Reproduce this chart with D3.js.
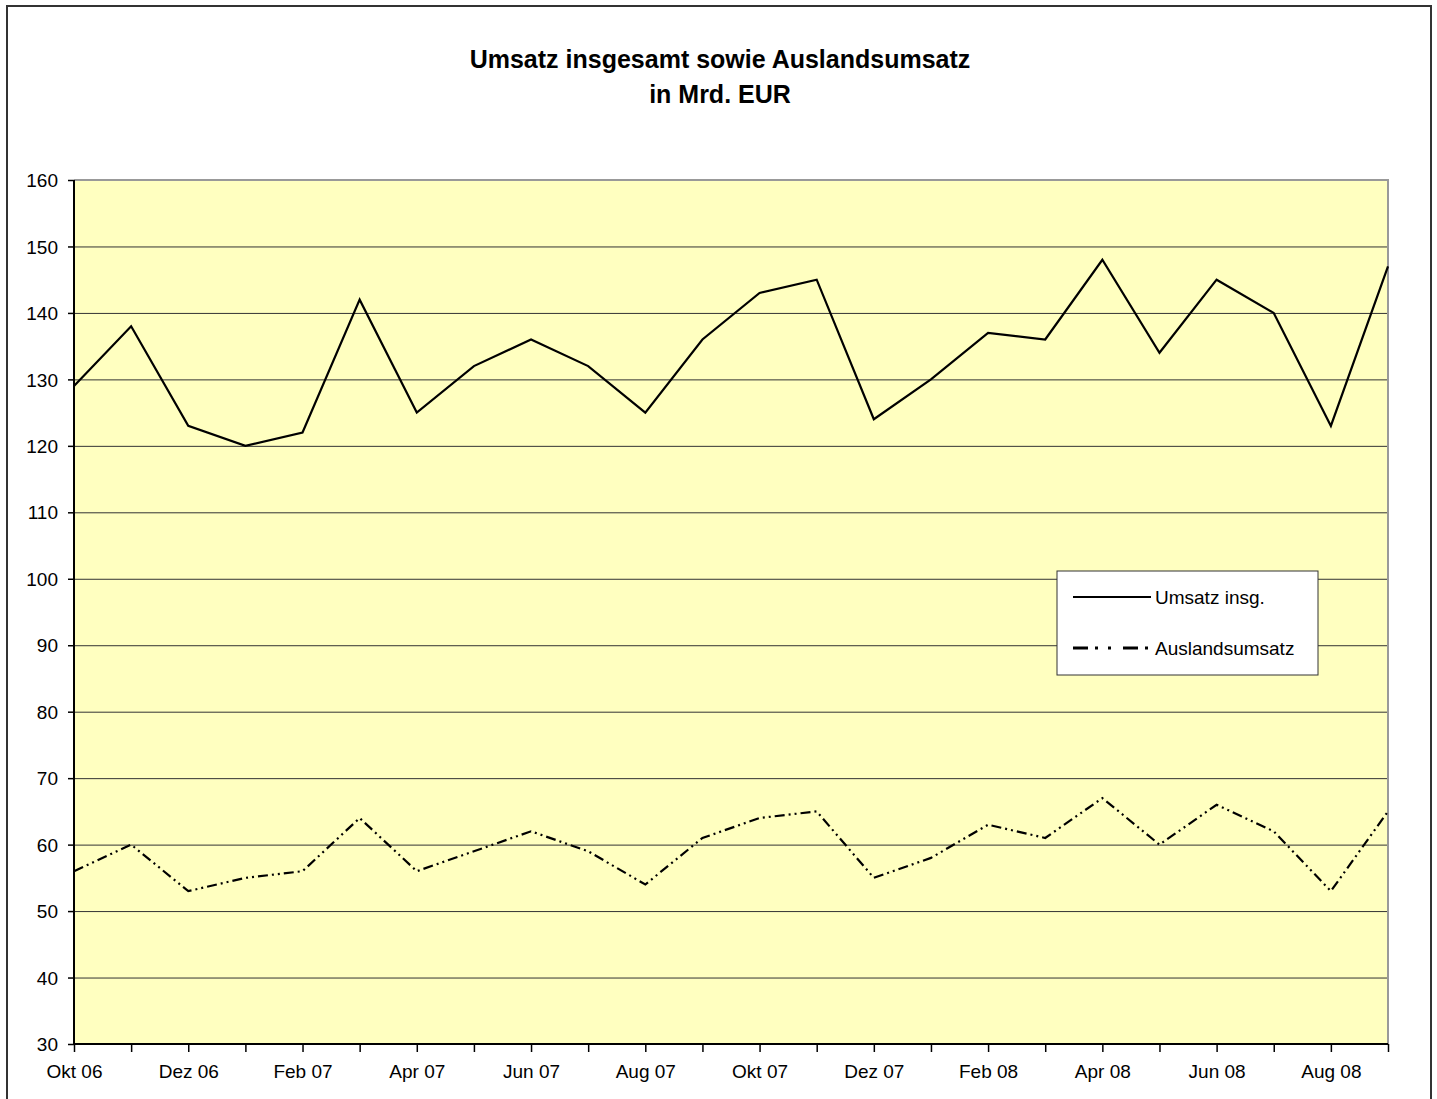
<!DOCTYPE html>
<html>
<head>
<meta charset="utf-8">
<script src="https://cdn.jsdelivr.net/npm/d3@7"></script>
<style>
	body { margin: 0; background: #fff; }
	svg text { font-family: "Liberation Sans", Arial, sans-serif; fill: #000; }
</style>
</head>
<body>
<svg id="chart" width="1437" height="1099"></svg>
<script>
// Monate Okt 06 bis Sep 08
var months = ["Okt 06", "Nov 06", "Dez 06", "Jan 07", "Feb 07", "Mrz 07", "Apr 07", "Mai 07",
	"Jun 07", "Jul 07", "Aug 07", "Sep 07", "Okt 07", "Nov 07", "Dez 07", "Jan 08",
	"Feb 08", "Mrz 08", "Apr 08", "Mai 08", "Jun 08", "Jul 08", "Aug 08", "Sep 08"];

var umsatz = [129, 138, 123, 120, 122, 142, 125, 132, 136, 132, 125, 136,
	143, 145, 124, 130, 137, 136, 148, 134, 145, 140, 123, 147];

var auslandsumsatz = [56, 60, 53, 55, 56, 64, 56, 59, 62, 59, 54, 61,
	64, 65, 55, 58, 63, 61, 67, 60, 66, 62, 53, 65];

var yTicks = [30, 40, 50, 60, 70, 80, 90, 100, 110, 120, 130, 140, 150, 160];
var titleLines = ["Umsatz insgesamt sowie Auslandsumsatz", "in Mrd. EUR"];
var seriesNames = ["Umsatz insg.", "Auslandsumsatz"];

var svg = d3.select("#chart");
var width = 1437, height = 1099;
var margin = {top: 180, right: 49, bottom: 55, left: 74};
var dashPattern = "10,4,2,4,2,4";

// outer frame
svg.append("rect")
	.attr("x", 7).attr("y", 6)
	.attr("width", 1424).attr("height", 1100)
	.attr("fill", "#fff")
	.attr("stroke", "#333")
	.attr("stroke-width", 2);

// title
svg.append("g").selectAll("text")
	.data(titleLines)
	.enter().append("text")
	.attr("x", 720)
	.attr("y", (d, i) => 68 + i * 35)
	.attr("text-anchor", "middle")
	.style("font-size", "25px")
	.style("font-weight", "bold")
	.text(d => d);

var x = d3.scalePoint()
	.domain(months)
	.range([margin.left, width - margin.right]);

var y = d3.scaleLinear()
	.domain([30, 160])
	.range([height - margin.bottom, margin.top]);

// plot background
svg.append("rect")
	.attr("x", margin.left).attr("y", margin.top)
	.attr("width", x.range()[1] - margin.left)
	.attr("height", y(30) - margin.top)
	.attr("fill", "#ffffc0");

// gridlines
svg.append("g").selectAll("line")
	.data(yTicks.filter(t => t > 30 && t < 160))
	.enter().append("line")
	.attr("x1", margin.left).attr("x2", x.range()[1])
	.attr("y1", d => y(d) + 0.5).attr("y2", d => y(d) + 0.5)
	.attr("stroke", "#333")
	.attr("stroke-width", 1);

// plot area border top/right
svg.append("path")
	.attr("d", "M" + margin.left + "," + y(160) + "H" + x.range()[1] + "V" + y(30))
	.attr("fill", "none")
	.attr("stroke", "#999")
	.attr("stroke-width", 2);

// y axis
var yAxis = svg.append("g")
	.attr("transform", "translate(" + margin.left + ",0)")
	.call(d3.axisLeft(y).tickValues(yTicks).tickSize(6).tickPadding(10));
yAxis.selectAll("text").style("font-size", "19px").attr("dy", "0.35em");

// x axis
var xAxis = svg.append("g")
	.attr("transform", "translate(0," + y(30) + ")")
	.call(d3.axisBottom(x).tickSize(8).tickPadding(13)
		.tickFormat((d, i) => i % 2 === 0 ? d : ""));
xAxis.selectAll("text").style("font-size", "19px");

svg.selectAll(".domain").attr("stroke", "#000").attr("stroke-width", 2);
svg.selectAll(".tick line").attr("stroke", "#000").attr("stroke-width", 1.5);
// hide offset path ends
yAxis.select(".domain").attr("d", "M0," + y(30) + "V" + y(160));
xAxis.select(".domain").attr("d", "M" + margin.left + ",0H" + x.range()[1]);

var line = d3.line()
	.x((d, i) => x(months[i]))
	.y(d => y(d));

svg.append("path")
	.datum(umsatz)
	.attr("d", line)
	.attr("fill", "none")
	.attr("stroke", "#000")
	.attr("stroke-width", 2.2);

svg.append("path")
	.datum(auslandsumsatz)
	.attr("d", line)
	.attr("fill", "none")
	.attr("stroke", "#000")
	.attr("stroke-width", 2.2)
	.attr("stroke-dasharray", dashPattern);

// legend
var legend = svg.append("g").attr("transform", "translate(1057,571)");
legend.append("rect")
	.attr("width", 261).attr("height", 104)
	.attr("fill", "#fff")
	.attr("stroke", "#333")
	.attr("stroke-width", 1);

var items = legend.selectAll("g.item")
	.data(seriesNames)
	.enter().append("g")
	.attr("class", "item")
	.attr("transform", (d, i) => "translate(0," + (26 + i * 51) + ")");

items.append("line")
	.attr("x1", 16).attr("x2", 94)
	.attr("y1", 0).attr("y2", 0)
	.attr("stroke", "#000")
	.attr("stroke-width", (d, i) => i === 0 ? 2 : 3)
	.attr("stroke-dasharray", (d, i) => i === 0 ? null : "15,7,3,10,3,12");

items.append("text")
	.attr("x", 98)
	.attr("dy", "0.35em")
	.style("font-size", "19px")
	.text(d => d);
</script>
</body>
</html>
